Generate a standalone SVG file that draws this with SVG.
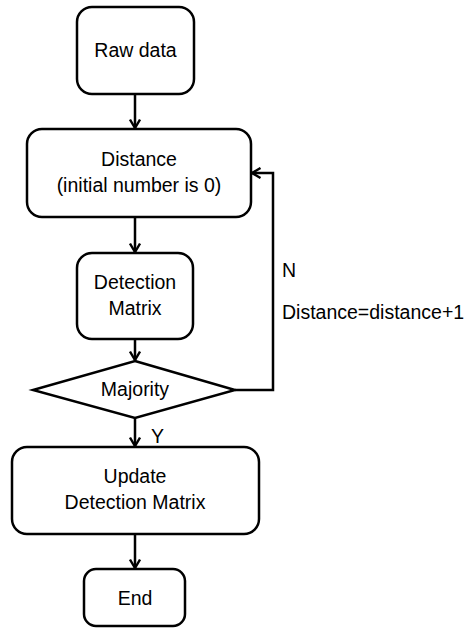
<svg xmlns="http://www.w3.org/2000/svg" width="467" height="628" viewBox="0 0 467 628">
<defs>
<marker id="arr" viewBox="0 0 12 12" refX="10" refY="6" markerWidth="12" markerHeight="12" markerUnits="userSpaceOnUse" orient="auto">
<path d="M1.5,1 L10,6 L1.5,11" fill="none" stroke="#000" stroke-width="2.4"/>
</marker>
<style>
.box{fill:#fff;stroke:#000;stroke-width:2.5}
.t{font-family:"Liberation Sans",Arial,sans-serif;font-size:19.5px;fill:#000;text-anchor:middle}
.l{font-family:"Liberation Sans",Arial,sans-serif;font-size:19.5px;fill:#000}
.c{fill:none;stroke:#000;stroke-width:2.5;marker-end:url(#arr)}
</style>
</defs>
<rect width="467" height="628" fill="#fff"/>
<g id="connectors">
<line class="c" x1="135" y1="94" x2="135" y2="128"/>
<line class="c" x1="135" y1="217" x2="135" y2="252"/>
<line class="c" x1="135" y1="339" x2="135" y2="360"/>
<line class="c" x1="135" y1="418" x2="135" y2="446"/>
<line class="c" x1="135" y1="534" x2="135" y2="568"/>
<polyline class="c" points="235,390 273,390 273,173 252,173"/>
<text class="l" x="282" y="277">N</text>
<text class="l" x="282" y="319">Distance=distance+1</text>
<text class="l" x="151" y="443">Y</text>
</g>
<g id="raw">
<rect class="box" x="77" y="7" width="117" height="87" rx="15"/>
<text class="t" x="135.5" y="57">Raw data</text>
</g>
<g id="distance">
<rect class="box" x="27" y="129" width="224" height="88" rx="15"/>
<text class="t" x="139" y="166">Distance</text>
<text class="t" x="139" y="192">(initial number is 0)</text>
</g>
<g id="detection">
<rect class="box" x="77" y="253" width="116" height="86" rx="15"/>
<text class="t" x="135" y="289">Detection</text>
<text class="t" x="135" y="315">Matrix</text>
</g>
<g id="majority">
<polygon class="box" points="135,361 235,390 135,418 33,390"/>
<text class="t" x="135" y="396">Majority</text>
</g>
<g id="update">
<rect class="box" x="12" y="447" width="247" height="87" rx="15"/>
<text class="t" x="135" y="483">Update</text>
<text class="t" x="135" y="509">Detection Matrix</text>
</g>
<g id="end">
<rect class="box" x="84" y="569" width="101" height="57" rx="12"/>
<text class="t" x="135" y="605">End</text>
</g>
</svg>
